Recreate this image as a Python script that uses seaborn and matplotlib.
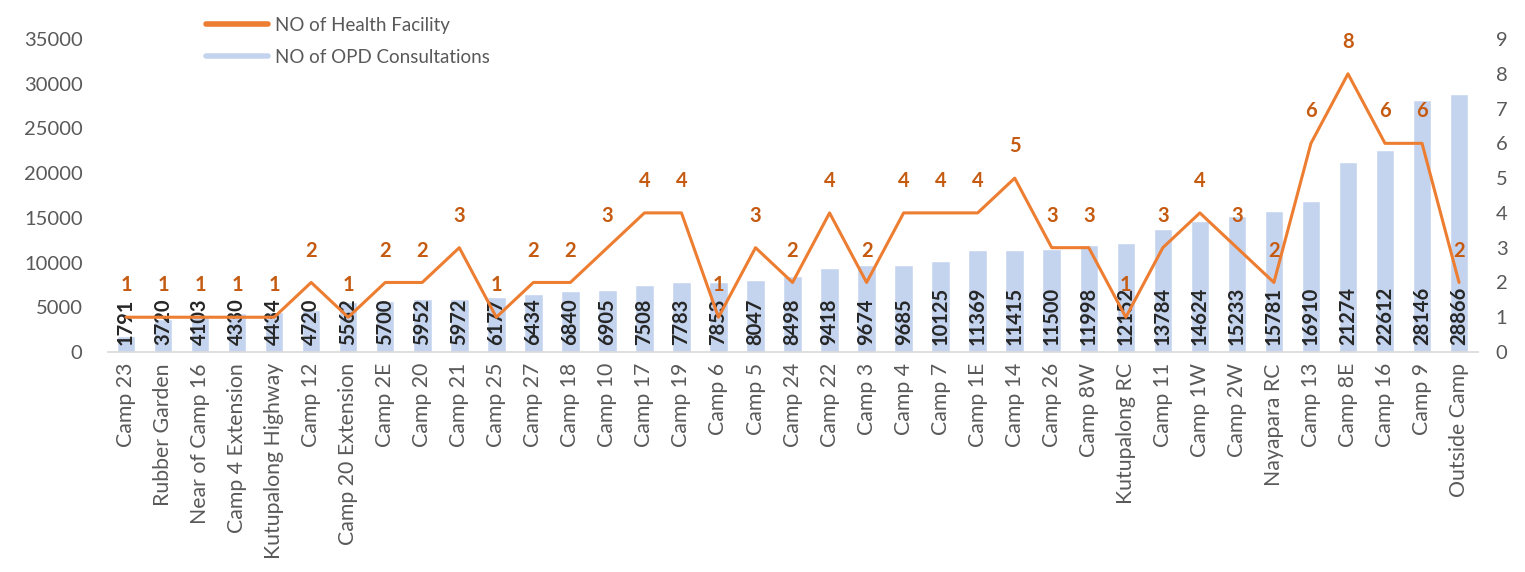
import numpy as np
import matplotlib
matplotlib.use("Agg")
import matplotlib.pyplot as plt
import seaborn as sns
from matplotlib.lines import Line2D

categories = ["Camp 23", "Rubber Garden", "Near of Camp 16", "Camp 4 Extension",
              "Kutupalong Highway", "Camp 12", "Camp 20 Extension", "Camp 2E",
              "Camp 20", "Camp 21", "Camp 25", "Camp 27", "Camp 18", "Camp 10",
              "Camp 17", "Camp 19", "Camp 6", "Camp 5", "Camp 24", "Camp 22",
              "Camp 3", "Camp 4", "Camp 7", "Camp 1E", "Camp 14", "Camp 26",
              "Camp 8W", "Kutupalong RC", "Camp 11", "Camp 1W", "Camp 2W",
              "Nayapara RC", "Camp 13", "Camp 8E", "Camp 16", "Camp 9", "Outside Camp"]
opd_consultations = [1791, 3720, 4103, 4330, 4434, 4720, 5562, 5700, 5952, 5972,
                     6177, 6434, 6840, 6905, 7508, 7783, 7853, 8047, 8498, 9418,
                     9674, 9685, 10125, 11369, 11415, 11500, 11998, 12152, 13784,
                     14624, 15233, 15781, 16910, 21274, 22612, 28146, 28866]
health_facilities = [1, 1, 1, 1, 1, 2, 1, 2, 2, 3, 1, 2, 2, 3, 4, 4, 1, 3, 2, 4,
                     2, 4, 4, 4, 5, 3, 3, 1, 3, 4, 3, 2, 6, 8, 6, 6, 2]
left_ticks = [0, 5000, 10000, 15000, 20000, 25000, 30000, 35000]
right_ticks = list(range(0, 10))

sns.set_theme(style="white")
plt.rcParams['font.family'] = ['Lato', 'DejaVu Sans']

BAR = "#c5d4ee"
LINE = "#ed7d31"
LBL_LINE = "#c55a11"
TXT = "#595959"

fig = plt.figure(figsize=(15.25, 5.72), dpi=100)
ax = fig.add_axes([0.0705, 0.3846, 0.8984, 0.5472])
ax2 = ax.twinx()

x = np.arange(len(categories))
sns.barplot(x=categories, y=opd_consultations, color=BAR, width=0.5,
            saturation=1, ax=ax)
sns.lineplot(x=x, y=health_facilities, color=LINE, linewidth=2.2, ax=ax2)

ax.set_xlim(-0.5, len(categories) - 0.5)
ax.set_ylim(0, 35000)
ax2.set_ylim(0, 9)
ax.set_yticks(left_ticks)
ax.set_yticklabels([str(t) for t in left_ticks])
ax2.set_yticks(right_ticks)
ax2.set_yticklabels([str(t) for t in right_ticks])

ax.set_xticks(x)
ax.set_xticklabels(categories, rotation=90, fontsize=15.3, color=TXT)
ax.tick_params(axis='y', labelsize=14.5, colors=TXT, length=0, pad=18)
ax2.tick_params(axis='y', labelsize=14.5, colors=TXT, length=0, pad=13)
ax.tick_params(axis='x', length=0, pad=8)

for a in (ax, ax2):
    for s in ("top", "left", "right"):
        a.spines[s].set_visible(False)
    a.spines["bottom"].set_color("#d9d9d9")
    a.spines["bottom"].set_linewidth(1.2)
    a.grid(False)
ax2.spines["bottom"].set_visible(False)

for i, v in enumerate(opd_consultations):
    ax.annotate(str(v), (i, 0), xytext=(0, 5), textcoords="offset points",
                rotation=90, ha="center", va="bottom", fontsize=14.5,
                fontweight="bold", color="#262626")
for i, v in enumerate(health_facilities):
    ax2.annotate(str(v), (i, v), xytext=(0, 23), textcoords="offset points",
                 ha="center", va="center", fontsize=14.5, fontweight="bold",
                 color=LBL_LINE)

handles = [Line2D([0], [0], color=LINE, lw=4),
           Line2D([0], [0], color=BAR, lw=4)]
fig.legend(handles, ["NO of Health Facility", "NO of OPD Consultations"],
           loc="upper left", bbox_to_anchor=(0.124, 1.0), frameon=False,
           fontsize=13.5, labelcolor=TXT, handlelength=3.3, handletextpad=0.4,
           labelspacing=0.8)

fig.savefig("out.png", dpi=100)
